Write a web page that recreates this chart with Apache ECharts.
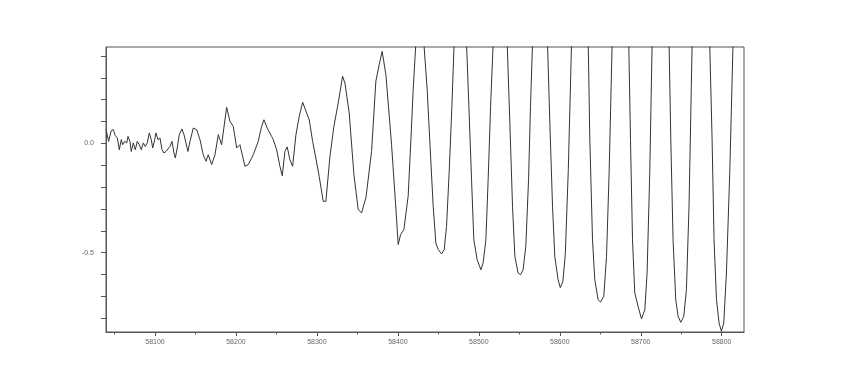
<!DOCTYPE html>
<html>
<head>
<meta charset="utf-8">
<script src="https://cdn.jsdelivr.net/npm/echarts@6/dist/echarts.min.js"></script>
<style>
html,body{margin:0;padding:0;background:#fff;}
#chart{width:850px;height:380px;}
</style>
</head>
<body>
<div id="chart"></div>
<script>
// x positions (values on the horizontal axis)
const xValues = [
58039.5,58042.8,58046.0,58048.5,58051.0,58053.5,58055.9,58058.4,58060.1,58062.6,
58065.1,58066.7,58069.1,58070.7,58073.2,58075.7,58078.1,58080.6,58083.1,58085.6,
58088.0,58090.5,58093.0,58095.4,58097.2,58099.6,58101.2,58103.7,58106.2,58108.6,
58111.1,58113.6,58116.0,58118.5,58121.0,58123.5,58125.1,58127.5,58130.0,58133.3,
58135.8,58138.3,58140.7,58143.2,58147.3,58151.5,58155.6,58159.6,58163.0,58165.8,
58170.0,58174.1,58178.2,58182.3,58188.5,58192.6,58196.7,58200.9,58204.9,58211.1,
58215.2,58221.4,58227.5,58231.7,58234.6,58238.6,58244.1,58246.1,58250.3,58254.3,
58257.2,58260.5,58263.3,58266.7,58270.0,58274.1,58278.2,58282.4,58284.8,58287.3,
58290.5,58294.7,58297.5,58302.8,58307.8,58311.1,58316.1,58321.0,58326.3,58331.7,
58334.6,58339.9,58345.7,58351.0,58355.2,58358.0,58360.5,58367.5,58372.8,58376.9,
58380.6,58385.2,58392.2,58397.5,58400.4,58403.3,58407.4,58412.7,58416.1,58418.9,
58422.2,58427.2,58432.1,58436.2,58440.4,58443.6,58446.9,58449.8,58454.0,58457.2,
58460.1,58463.3,58466.7,58469.5,58477.2,58484.8,58487.7,58491.0,58493.8,58497.9,
58502.5,58505.3,58508.7,58511.5,58514.5,58517.7,58526.3,58535.0,58538.3,58541.6,
58544.5,58548.5,58551.5,58554.7,58558.0,58561.4,58563.8,58566.3,58575.6,58584.8,
58587.7,58591.0,58593.8,58597.9,58600.6,58603.7,58606.8,58610.5,58614.5,58624.7,
58635.1,58637.1,58640.4,58643.2,58647.3,58650.3,58654.3,58657.7,58660.9,58664.6,
58674.8,58685.2,58687.3,58689.8,58692.6,58696.7,58700.9,58705.0,58707.8,58711.1,
58714.0,58724.5,58735.0,58737.1,58739.9,58743.2,58746.1,58749.4,58753.1,58756.4,
58759.6,58763.4,58774.1,58785.2,58788.1,58790.5,58793.5,58796.7,58799.6,58802.5,
58805.8,58809.9,58813.9,58827.2
];
// signal values
const yValues = [
0.063,0.009,0.059,0.063,0.035,0.025,-0.029,0.017,-0.006,0.009,
0.002,0.032,0.009,-0.037,0.002,-0.029,0.009,-0.006,-0.029,0.002,
-0.014,0.002,0.048,0.017,-0.021,0.017,0.048,0.017,0.025,-0.029,
-0.044,-0.037,-0.044,-0.014,0.009,-0.044,-0.067,-0.021,0.040,0.066,
0.040,0.002,-0.037,0.009,0.070,0.063,0.017,-0.052,-0.082,-0.052,
-0.097,-0.052,0.040,-0.006,0.165,0.101,0.078,-0.021,-0.006,-0.105,
-0.097,-0.052,0.009,0.078,0.108,0.070,0.032,0.017,-0.029,-0.105,
-0.148,-0.037,-0.016,-0.075,-0.105,0.040,0.124,0.188,0.185,0.139,
0.108,0.009,-0.044,-0.151,-0.265,-0.265,-0.059,0.078,0.185,0.307,
0.276,0.139,-0.143,-0.303,-0.318,-0.280,-0.250,-0.037,0.284,0.360,
0.421,0.314,-0.006,-0.296,-0.463,-0.418,-0.395,-0.242,0.017,0.246,
0.459,0.59,0.459,0.246,-0.059,-0.288,-0.456,-0.486,-0.506,-0.486,
-0.380,-0.135,0.169,0.459,0.72,0.459,0.169,-0.166,-0.441,-0.532,
-0.578,-0.547,-0.441,-0.166,0.169,0.459,0.83,0.459,0.093,-0.288,
-0.517,-0.593,-0.601,-0.578,-0.471,-0.166,0.169,0.459,0.92,0.459,
0.093,-0.288,-0.517,-0.624,-0.660,-0.633,-0.509,-0.120,0.459,1.10,
0.459,0.017,-0.441,-0.624,-0.715,-0.726,-0.700,-0.517,-0.135,0.45,
1.15,0.45,0.017,-0.441,-0.684,-0.746,-0.803,-0.761,-0.593,-0.135,
0.45,1.22,0.45,0.017,-0.441,-0.715,-0.791,-0.819,-0.791,-0.669,
-0.288,0.45,1.34,0.45,0.017,-0.441,-0.715,-0.822,-0.860,-0.822,
-0.593,-0.135,0.45,1.20
];
const xMajorTicks = [58100,58200,58300,58400,58500,58600,58700,58800];
const xMinorTicks = [58050,58150,58250,58350,58450,58550,58650,58750];
const yTicks = [-0.8,-0.7,-0.6,-0.5,-0.4,-0.3,-0.2,-0.1,0.0,0.1,0.2,0.3,0.4];
const yLabels = [-0.5,0.0];
const xMin = 58039.5, xMax = 58827.5, yMin = -0.863, yMax = 0.441;

const chart = echarts.init(document.getElementById('chart'), null, {renderer:'canvas'});
const lineCol = '#555';
const labelStyle = {color:'#666', fontSize:7, fontFamily:'Liberation Sans, Arial, sans-serif'};
chart.setOption({
  animation:false,
  backgroundColor:'#fff',
  grid:{left:106, right:106, top:47, bottom:48, show:true, borderColor:lineCol, borderWidth:1, backgroundColor:'transparent'},
  xAxis:[{
    type:'value', min:xMin, max:xMax, position:'bottom',
    axisLine:{show:true, onZero:false, lineStyle:{color:lineCol, width:1}},
    axisTick:{show:true, inside:false, length:4, customValues:xMajorTicks, lineStyle:{color:lineCol}},
    axisLabel:{show:true, customValues:xMajorTicks, margin:7, formatter:v=>String(Math.round(v)), ...labelStyle},
    splitLine:{show:false}
  },{
    type:'value', min:xMin, max:xMax, position:'bottom', gridIndex:0,
    axisLine:{show:false, onZero:false},
    axisTick:{show:true, inside:false, length:2.5, customValues:xMinorTicks, lineStyle:{color:lineCol}},
    axisLabel:{show:false},
    splitLine:{show:false}
  }],
  yAxis:{
    type:'value', min:yMin, max:yMax,
    axisLine:{show:true, onZero:false, lineStyle:{color:lineCol, width:1}},
    axisTick:{show:true, inside:false, length:5, customValues:yTicks, lineStyle:{color:lineCol}},
    axisLabel:{show:true, customValues:yLabels, margin:12, formatter:v=>v.toFixed(1), ...labelStyle},
    splitLine:{show:false}
  },
  series:[{
    type:'line',
    xAxisIndex:0,
    data:xValues.map((x,i)=>[x,yValues[i]]),
    showSymbol:false,
    symbol:'none',
    clip:true,
    lineStyle:{color:'#333', width:1},
    silent:true
  }]
});
</script>
</body>
</html>
